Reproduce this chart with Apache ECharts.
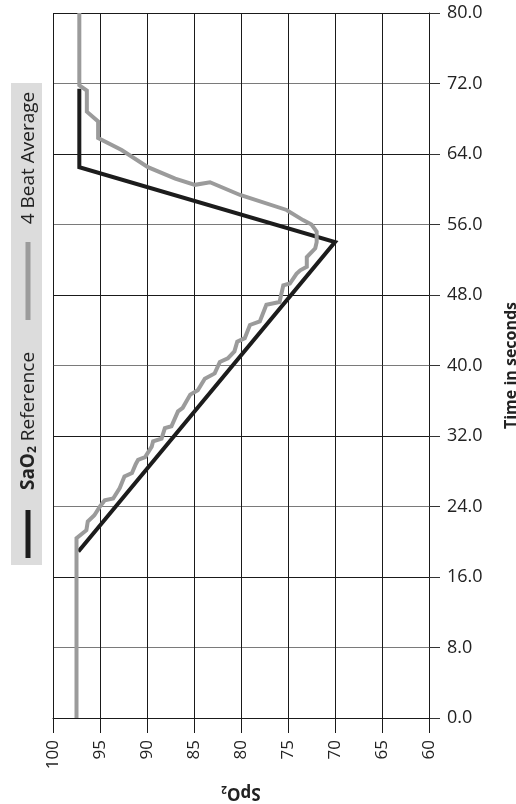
<!DOCTYPE html>
<html>
<head>
<meta charset="utf-8">
<script src="https://cdn.jsdelivr.net/npm/echarts@6/dist/echarts.min.js"></script>
<style>
html,body{margin:0;padding:0;background:#fff;}
#chart{width:516px;height:804px;}
</style>
</head>
<body>
<div id="chart"></div>
<script>
// SaO2 reference line (SpO2 value, time in seconds)
const refSpO2 = [97.3, 70.0, 97.2, 97.2];
const refTime = [18.9, 54.0, 62.5, 71.4];

// 4 beat average line
const avgSpO2 = [97.5, 97.5, 96.45, 96.3, 95.6, 95.0, 94.5, 93.6, 92.9, 92.4, 91.6, 91.2, 90.95, 90.2, 89.5, 89.35, 88.45, 88.1, 87.4, 86.7, 86.2, 85.4, 84.6, 83.85, 82.8, 82.25, 81.4, 80.7, 80.4, 79.6, 79.05, 78.0, 77.3, 75.9, 75.5, 74.8, 74.1, 73.7, 73.0, 73.0, 72.1, 71.95, 71.95, 72.5, 73.4, 75.15, 80.1, 83.3, 84.9, 87.0, 89.9, 92.7, 95.2, 95.2, 96.4, 96.4, 97.2, 97.2];
const avgTime = [0, 20.4, 21.3, 22.3, 23.0, 24.0, 24.7, 24.9, 26.1, 27.4, 27.8, 28.8, 29.3, 29.6, 30.8, 31.4, 31.7, 32.9, 33.1, 34.8, 35.2, 36.7, 37.2, 38.5, 39.1, 40.4, 40.8, 41.6, 42.7, 43.1, 44.6, 45.0, 46.9, 47.2, 49.1, 49.3, 50.4, 50.8, 51.2, 52.3, 53.3, 54.0, 55.2, 56.0, 56.5, 57.65, 59.35, 60.8, 60.5, 61.2, 62.5, 64.45, 65.8, 67.7, 68.8, 71.2, 71.8, 80.0];

const xAxisName = 'SpO2';
const yAxisName = 'Time in seconds';
const legendNames = ['SaO2 Reference', '4 Beat Average'];

const FONT = 'Open Sans';
const refData = refSpO2.map((v, i) => [v, refTime[i]]);
const avgData = avgSpO2.map((v, i) => [v, avgTime[i]]);

const chart = echarts.init(document.getElementById('chart'), null, {renderer: 'canvas'});
chart.setOption({
  animation: false,
  backgroundColor: '#ffffff',
  textStyle: {fontFamily: FONT},
  grid: {left: 53, right: 87, top: 13, bottom: 86, containLabel: false, outerBoundsMode: 'none'},
  xAxis: {
    type: 'value', min: 60, max: 100, interval: 5, inverse: true,
    position: 'bottom',
    axisLine: {show: true, lineStyle: {color: '#1a1a1a', width: 1}},
    axisTick: {show: true, length: 15, lineStyle: {color: '#1a1a1a', width: 1}},
    axisLabel: {rotate: 90, fontSize: 17, color: '#222', margin: 22, fontFamily: FONT},
    splitLine: {show: true, lineStyle: {color: '#1a1a1a', width: 1}},
    name: '{a|SpO}{b|2}',
    nameLocation: 'middle', nameRotate: 180, nameGap: 66,
    nameTextStyle: {
      rich: {
        a: {fontSize: 17, fontWeight: 'bold', color: '#222', fontFamily: FONT},
        b: {fontSize: 10, fontWeight: 'bold', color: '#222', fontFamily: FONT, verticalAlign: 'bottom', padding: [8, 0, 0, 0]}
      }
    }
  },
  yAxis: {
    type: 'value', min: 0, max: 80, interval: 8,
    position: 'right',
    axisLine: {show: true, lineStyle: {color: '#1a1a1a', width: 1}},
    axisTick: {show: true, length: 11, lineStyle: {color: '#333', width: 1}},
    axisLabel: {fontSize: 18, color: '#222', margin: 18, fontFamily: FONT, formatter: v => v.toFixed(1)},
    splitLine: {show: true, lineStyle: {color: ['#1a1a1a', '#7a7a7a'], width: 1}},
    name: yAxisName,
    nameLocation: 'middle', nameRotate: 90, nameGap: 74,
    nameTextStyle: {fontSize: 16, fontWeight: 'bold', color: '#222', fontFamily: FONT}
  },
  series: [
    {
      name: legendNames[0], type: 'line', data: refData, showSymbol: false, symbol: 'none',
      lineStyle: {color: '#1c1c1c', width: 4, join: 'miter'}, z: 3
    },
    {
      name: legendNames[1], type: 'line', data: avgData, showSymbol: false, symbol: 'none',
      lineStyle: {color: '#9b9b9b', width: 4, join: 'miter'}, z: 4
    }
  ],
  graphic: [
    {type: 'rect', shape: {x: 11, y: 83, width: 31, height: 482}, style: {fill: '#dcdcdc'}, z: 10},
    {type: 'line', shape: {x1: 28, y1: 510, x2: 28, y2: 558}, style: {stroke: '#1c1c1c', lineWidth: 5}, z: 11},
    {type: 'line', shape: {x1: 28, y1: 242, x2: 28, y2: 320}, style: {stroke: '#9b9b9b', lineWidth: 5}, z: 11},
    {
      type: 'text', x: 29, y: 421, rotation: Math.PI / 2, z: 11,
      style: {
        text: '{a|SaO}{b|2}{c| Reference}',
        align: 'center', verticalAlign: 'middle',
        rich: {
          a: {fontSize: 19, fontWeight: 'bold', fill: '#222', fontFamily: FONT},
          b: {fontSize: 12, fontWeight: 'bold', fill: '#222', fontFamily: FONT, verticalAlign: 'bottom', padding: [8, 0, 0, 0]},
          c: {fontSize: 19, fill: '#222', fontFamily: FONT}
        }
      }
    },
    {
      type: 'text', x: 29, y: 158, rotation: Math.PI / 2, z: 11,
      style: {text: legendNames[1], fontSize: 19, fill: '#222', fontFamily: FONT, align: 'center', verticalAlign: 'middle'}
    }
  ]
});
</script>
</body>
</html>
